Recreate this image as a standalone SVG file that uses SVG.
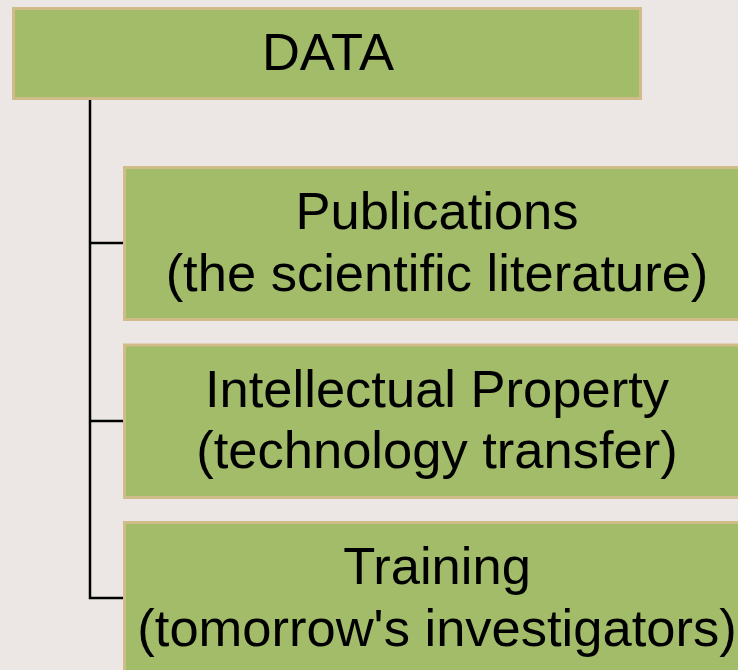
<svg xmlns="http://www.w3.org/2000/svg" width="738" height="670" viewBox="0 0 738 670">
<style>
.box{fill:#A2BC6A;stroke:#D0BC88;stroke-width:3}
.t{font-family:"Liberation Sans",Arial,sans-serif;font-size:52.5px;fill:#000;text-anchor:middle}
.c{stroke:#000;stroke-width:2.5;fill:none}
</style>
<rect width="738" height="670" fill="#ECE7E4"/>
<g id="connectors">
<path class="c" d="M90,100 V598 H123 M90,243 H123 M90,421 H123"/>
</g>
<g id="data">
<rect class="box" x="13.5" y="8.5" width="627" height="90"/>
<text class="t" x="328" y="70">DATA</text>
</g>
<g id="publications">
<rect class="box" x="124.5" y="167.5" width="628" height="152"/>
<text class="t" x="437" y="229">Publications</text>
<text class="t" x="437" y="291">(the scientific literature)</text>
</g>
<g id="ip">
<rect class="box" x="124.5" y="345" width="628" height="152.5"/>
<text class="t" x="437" y="407">Intellectual Property</text>
<text class="t" x="437" y="468">(technology transfer)</text>
</g>
<g id="training">
<rect class="box" x="124.5" y="522.5" width="628" height="152"/>
<text class="t" x="437" y="584">Training</text>
<text class="t" x="437" y="646">(tomorrow's investigators)</text>
</g>
</svg>
